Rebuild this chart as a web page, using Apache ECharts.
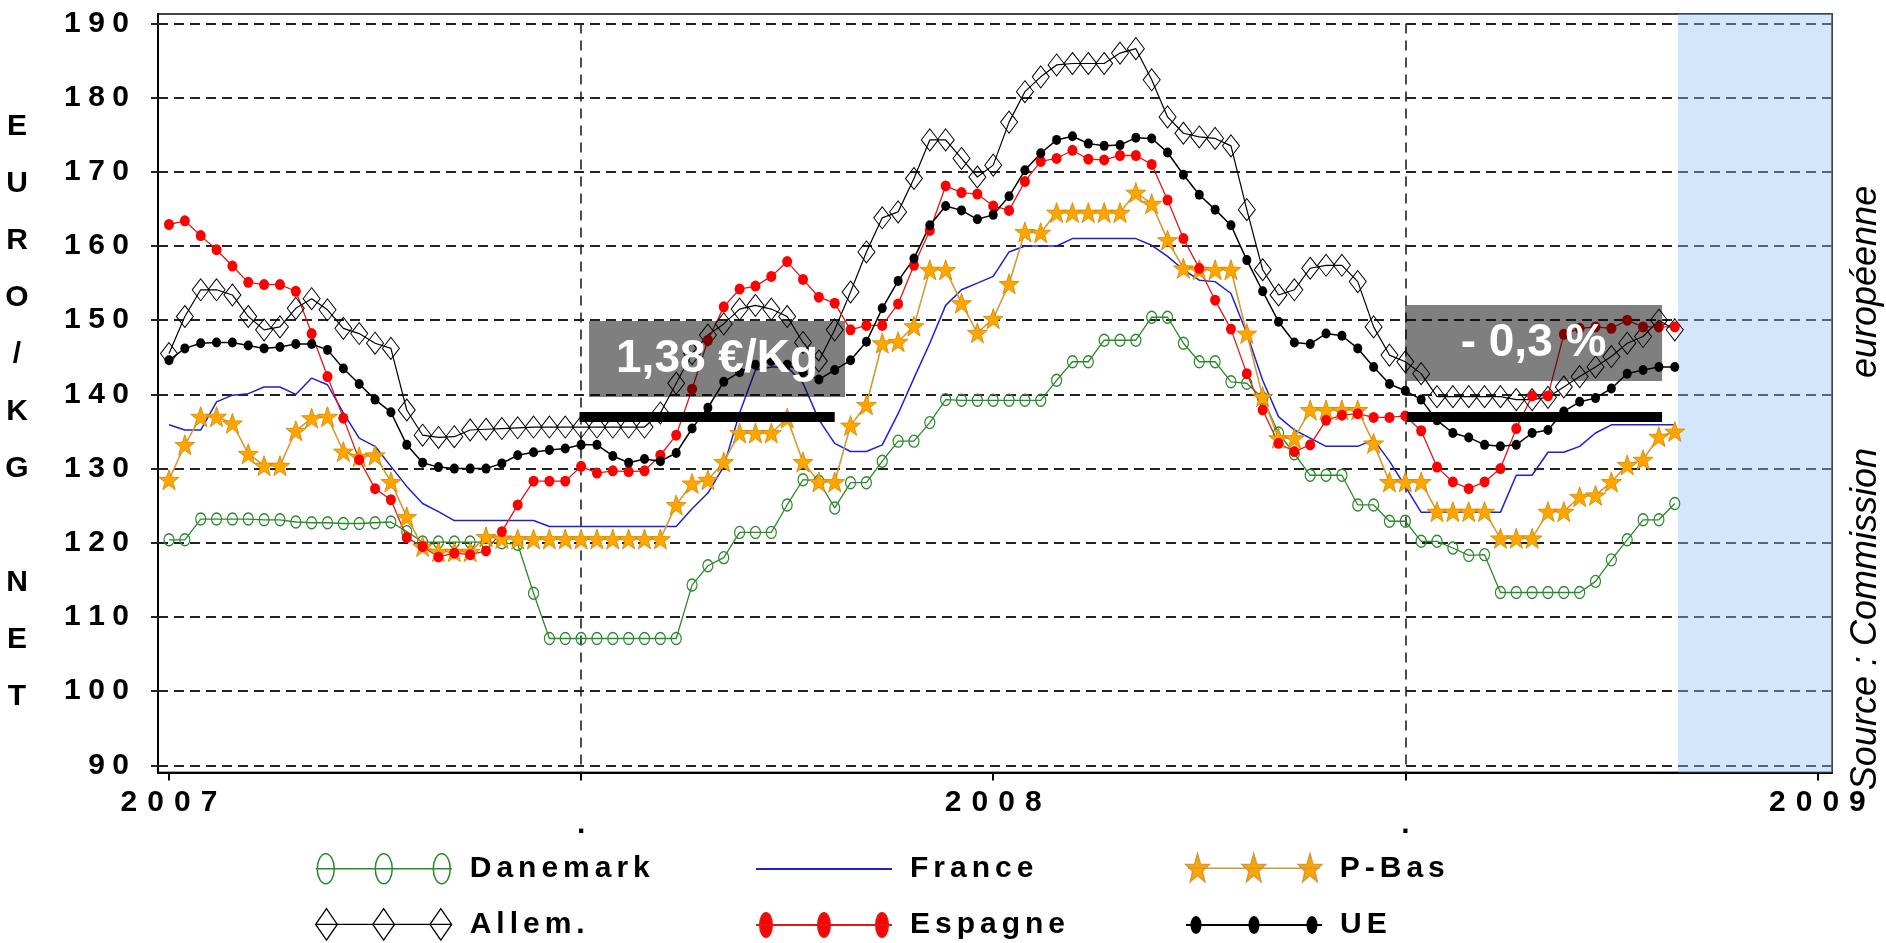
<!DOCTYPE html>
<html><head><meta charset="utf-8">
<script src="https://cdn.jsdelivr.net/npm/echarts@6/dist/echarts.min.js"></script>
<style>html,body{margin:0;padding:0;background:#fff}#c{width:1886px;height:943px}</style>
</head><body><div id="c"></div>
<script>
// ---- data (weekly prices, EUR / 100 kg net; week 0 = first week of 2007) ----
const xTickValues = [0, 26, 52, 78, 104];
const xTickLabels = ['2007', '.', '2008', '.', '2009'];
const yTickValues = [90, 100, 110, 120, 130, 140, 150, 160, 170, 180, 190];

const danemark = [120.4,120.4,123.2,123.2,123.2,123.2,123.1,123.1,122.8,122.7,122.7,122.6,122.6,122.7,122.8,121.5,120.1,120.1,120.1,120.1,120.1,120.0,119.8,113.2,107.1,107.1,107.1,107.1,107.1,107.1,107.1,107.1,107.1,114.3,116.9,118.0,121.4,121.4,121.4,125.1,128.5,128.3,124.7,128.1,128.1,131.0,133.7,133.7,136.2,139.3,139.2,139.2,139.2,139.2,139.2,139.2,141.9,144.4,144.4,147.3,147.3,147.3,150.4,150.4,146.9,144.4,144.4,141.7,141.5,139.5,134.8,132.0,129.1,129.1,129.1,125.1,125.1,122.9,122.9,120.2,120.2,119.3,118.3,118.4,113.3,113.3,113.3,113.3,113.3,113.3,114.8,117.7,120.4,123.1,123.1,125.3];
const france = [135.9,135.2,135.2,139.0,139.9,140.1,141.0,141.0,140.0,142.2,141.3,137.5,134.1,133.0,130.3,127.6,125.3,124.2,123.0,123.0,123.0,123.0,123.0,123.0,122.2,122.2,122.2,122.2,122.2,122.2,122.2,122.2,122.2,124.6,126.7,130.3,137.5,143.3,143.7,143.7,141.5,136.6,133.4,132.3,132.3,133.2,137.4,142.2,146.9,152.0,154.1,155.0,155.9,159.2,160.0,160.0,160.0,161.0,161.0,161.0,161.0,161.0,160.1,158.6,156.8,155.4,155.2,153.6,148.2,141.9,137.0,135.2,134.1,133.0,133.0,133.0,133.9,131.0,127.6,124.1,124.1,124.1,124.1,124.1,124.1,129.1,129.1,132.2,132.2,133.0,134.8,135.9,135.9,135.9,135.9,135.9];
const pBas = [128.5,133.2,137.0,137.0,136.1,132.0,130.4,130.4,135.1,136.8,137.0,132.3,131.6,131.8,128.2,123.5,119.5,118.8,118.8,118.8,120.8,120.6,120.5,120.5,120.5,120.5,120.5,120.5,120.5,120.5,120.5,120.5,125.1,128.0,128.5,130.9,134.8,134.8,134.8,136.8,130.9,128.2,128.2,135.8,138.6,146.9,147.1,149.2,156.8,156.8,152.3,148.3,150.2,154.9,161.9,161.8,164.5,164.5,164.5,164.5,164.5,167.2,165.7,160.8,157.0,156.8,156.8,156.8,148.2,139.7,134.1,134.1,137.9,137.9,137.9,137.9,133.4,128.2,128.2,128.2,124.2,124.2,124.2,124.2,120.6,120.6,120.6,124.2,124.2,126.2,126.4,128.2,130.5,131.2,134.3,135.0];
const allem = [145.5,150.5,154.1,154.1,153.4,150.5,148.7,149.1,151.6,152.9,151.4,148.9,148.2,146.9,146.2,137.9,134.5,134.2,134.3,135.2,135.3,135.4,135.5,135.6,135.6,135.6,135.6,135.6,135.6,135.6,135.6,137.5,141.5,145.5,148.0,149.5,151.5,152.0,151.5,150.5,147.0,144.5,148.7,153.8,159.2,163.8,164.6,169.1,174.3,174.3,171.8,169.3,170.9,176.7,180.8,182.8,184.4,184.6,184.6,184.6,186.0,186.6,182.4,177.4,175.2,174.7,174.5,173.5,164.9,156.8,153.4,154.1,157.0,157.4,157.4,155.2,149.1,145.3,144.4,142.8,139.7,139.7,139.7,139.7,139.7,139.3,139.3,139.6,141.0,142.4,143.7,145.1,146.9,147.8,150.0,148.7];
const espagne = [162.9,163.4,161.4,159.5,157.3,155.1,154.8,154.8,153.9,148.2,142.4,136.8,131.2,127.3,125.8,120.7,119.5,118.1,118.6,118.4,118.9,121.5,125.1,128.3,128.3,128.3,130.3,129.4,129.7,129.6,129.7,131.8,134.5,140.7,147.3,151.8,154.2,154.6,155.9,157.9,155.5,153.1,152.3,148.7,149.3,149.3,152.2,157.4,162.1,168.1,167.2,167.0,165.4,164.8,168.7,171.4,171.8,172.9,171.7,171.6,172.2,172.2,171.0,166.2,161.0,157.0,152.7,148.8,142.8,137.9,133.4,132.3,133.2,136.5,137.2,137.4,136.9,136.9,137.1,135.1,130.2,128.2,127.3,128.2,130.0,135.4,139.8,139.8,148.1,148.9,149.1,148.9,150.0,149.1,149.1,149.1];
const ue = [144.6,146.2,146.9,147.0,147.0,146.6,146.2,146.4,146.8,146.8,146.0,143.5,141.4,139.3,137.6,133.2,130.8,130.2,130.0,130.0,130.0,130.7,131.8,132.2,132.5,132.7,133.2,133.2,131.7,130.8,131.3,131.0,132.1,135.4,138.2,141.7,143.0,144.0,144.5,144.0,143.0,142.0,143.3,144.6,147.1,151.6,155.3,158.3,162.8,165.4,164.8,163.6,164.2,166.7,170.2,172.5,174.3,174.8,173.8,173.5,173.6,174.6,174.5,172.6,169.6,166.9,164.9,162.8,158.1,153.9,149.8,147.0,146.8,148.2,147.9,146.2,143.7,141.4,140.5,139.3,136.5,134.8,134.2,133.2,133.0,133.2,134.8,135.2,137.7,139.0,139.5,140.8,142.8,143.3,143.7,143.7];

// annotation values
const refLevel = 137;              // black reference bars
const noteLeft = '1,38 €/Kg';
const noteRight = '- 0,3 %';

// ---- helpers ----
const FONT = '"Liberation Sans", Arial, sans-serif';
const pairs = arr => arr.map((v, i) => [i, v]);
function starPts(cx, cy, R, r, sx, sy) {
  let s = '';
  for (let k = 0; k < 10; k++) {
    const a = -Math.PI / 2 + k * Math.PI / 5;
    const rad = k % 2 ? r : R;
    s += (k ? 'L' : 'M') + (cx + rad * Math.cos(a) * sx).toFixed(2) + ' ' + (cy + rad * Math.sin(a) * sy).toFixed(2) + ' ';
  }
  return s + 'Z ';
}
function ellipse(cx, cy, rx, ry) {
  return `M${cx - rx} ${cy} A${rx} ${ry} 0 1 0 ${cx + rx} ${cy} A${rx} ${ry} 0 1 0 ${cx - rx} ${cy} Z `;
}
function diamond(cx, cy, hw, hh) {
  return `M${cx - hw} ${cy} L${cx} ${cy - hh} L${cx + hw} ${cy} L${cx} ${cy + hh} Z `;
}
const W = 136, H = 32, CX = [10, 68, 126];
const pin = 'M0 0 L0.01 0 M136 32 L135.99 32 ';
const baseLine = 'M0 16 L136 16 ';
const icon = {
  Danemark: 'path://' + pin + baseLine + CX.map(c => ellipse(c, 16, 8.5, 15)).join(''),
  'Allem.': 'path://' + pin + baseLine + CX.map(c => diamond(c, 16, 11, 16)).join(''),
  France: 'path://' + pin + baseLine,
  Espagne: 'path://' + pin + baseLine + CX.map(c => ellipse(c, 16, 6, 12)).join(''),
  'P-Bas': 'path://' + pin + baseLine + CX.map(c => starPts(c, 17, 16, 6.5, 0.8, 1)).join(''),
  UE: 'path://' + pin + baseLine + CX.map(c => ellipse(c, 16, 4.5, 8)).join('')
};
const starSymbol = 'path://' + starPts(10, 10, 10, 4, 1, 1);
const spaced = (s, sp) => String(s).split('').join(sp);

const C = {
  dk: '#2b8a2b', fr: '#2020d2', pb: '#ffa500', pbLine: '#d39a38', pbBorder: '#d08700',
  es: '#ff0000', esLine: '#e01818'
};

const chart = echarts.init(document.getElementById('c'), null, { renderer: 'canvas' });

const legendBase = {
  orient: 'horizontal', itemWidth: W, itemHeight: H, padding: 0,
  selectedMode: false, symbolKeepAspect: true,
  textStyle: { fontSize: 30, fontWeight: 'bold', fontFamily: FONT, color: '#000', padding: [0, 0, 0, 13] },
  formatter: n => spaced(n, '\u2006')
};
const legendAt = (name, left, top, st) => Object.assign({}, legendBase, { left, top, data: [{ name, icon: icon[name], itemStyle: st }] });

const option = {
  animation: false,
  backgroundColor: '#fff',
  grid: { left: 158, top: 14, right: 54, bottom: 170.5, show: true, borderColor: '#444', borderWidth: 2, backgroundColor: 'transparent' },
  xAxis: {
    type: 'value', min: -0.694, max: 104.92,
    axisLine: { show: true, onZero: false, lineStyle: { color: '#000', width: 2 } },
    axisTick: { show: true, customValues: xTickValues, length: 8, lineStyle: { color: '#000', width: 2 } },
    axisLabel: {
      customValues: xTickValues, margin: 19, fontSize: 30, lineHeight: 22, fontWeight: 'bold', fontFamily: FONT, color: '#000',
      formatter: v => { const t = xTickLabels[xTickValues.indexOf(Math.round(v))]; return t === '.' ? '\n.' : spaced(t, '\u2004'); }
    },
    splitLine: { show: false }
  },
  yAxis: {
    type: 'value', min: 89.04, max: 191.27,
    axisLine: { show: true, onZero: false, lineStyle: { color: '#000', width: 2 } },
    axisTick: { show: true, customValues: yTickValues, length: 7, lineStyle: { color: '#222', width: 2 } },
    axisLabel: {
      customValues: yTickValues, margin: 29, fontSize: 30, fontWeight: 'bold', fontFamily: FONT, color: '#000',
      formatter: v => spaced(Math.round(v), '\u2005')
    },
    splitLine: { show: false }
  },
  legend: [
    legendAt('Danemark', 315, 852, { color: 'rgba(0,0,0,0)', borderColor: C.dk, borderWidth: 1.5 }),
    legendAt('France', 755, 852, { color: 'rgba(0,0,0,0)', borderColor: C.fr, borderWidth: 2 }),
    legendAt('P-Bas', 1185, 852, { color: C.pb, borderColor: C.pbLine, borderWidth: 1.5 }),
    legendAt('Allem.', 315, 908, { color: 'rgba(0,0,0,0)', borderColor: '#000', borderWidth: 1.3 }),
    legendAt('Espagne', 755, 908, { color: C.es, borderColor: C.esLine, borderWidth: 2 }),
    legendAt('UE', 1185, 908, { color: '#000', borderColor: '#000', borderWidth: 2 })
  ],
  series: [
    { // grid lines
      type: 'line', data: [], silent: true, z: 1,
      markLine: {
        silent: true, z: 1, symbol: ['none', 'none'], label: { show: false }, animation: false,
        lineStyle: { type: [10, 6], color: '#222', width: 2 },
        emphasis: { disabled: true },
        data: yTickValues.map(v => ({ yAxis: v })).concat([
          [{ coord: [26, 190], lineStyle: { width: 1.6, type: [10, 7] } }, { coord: [26, 89.04] }],
          [{ coord: [78, 190], lineStyle: { width: 1.6, type: [10, 7] } }, { coord: [78, 89.04] }]
        ])
      }
    },
    { // shaded region
      type: 'line', data: [], silent: true, z: 1,
      markArea: {
        silent: true, z: 1.5, itemStyle: { color: 'rgba(150,195,245,0.42)' }, emphasis: { disabled: true },
        data: [[{ xAxis: 95.2 }, { xAxis: 104.92 }]]
      }
    },
    { name: 'France', type: 'line', data: pairs(france), symbol: 'none', z: 2,
      itemStyle: { color: C.fr }, lineStyle: { color: C.fr, width: 1.5 }, emphasis: { disabled: true } },
    { name: 'Danemark', type: 'line', data: pairs(danemark), symbol: 'circle', symbolSize: [10, 12], z: 2,
      itemStyle: { color: 'rgba(0,0,0,0)', borderColor: C.dk, borderWidth: 1.3 }, lineStyle: { color: C.dk, width: 1.3 }, emphasis: { disabled: true } },
    { name: 'Allem.', type: 'line', data: pairs(allem), symbol: 'diamond', symbolSize: [17, 22], z: 2,
      itemStyle: { color: 'rgba(0,0,0,0)', borderColor: '#000', borderWidth: 1 }, lineStyle: { color: '#000', width: 1.2 }, emphasis: { disabled: true } },
    { name: 'P-Bas', type: 'line', data: pairs(pBas), symbol: starSymbol, symbolSize: 20, z: 2,
      itemStyle: { color: C.pb, borderColor: C.pbBorder, borderWidth: 0.8 }, lineStyle: { color: C.pbLine, width: 1.6 }, emphasis: { disabled: true } },
    { name: 'Espagne', type: 'line', data: pairs(espagne), symbol: 'circle', symbolSize: [10, 11], z: 2,
      itemStyle: { color: C.es }, lineStyle: { color: C.esLine, width: 1.3 }, emphasis: { disabled: true } },
    { name: 'UE', type: 'line', data: pairs(ue), symbol: 'circle', symbolSize: [9, 10], z: 2,
      itemStyle: { color: '#000' }, lineStyle: { color: '#000', width: 1.5 }, emphasis: { disabled: true } },
    { // annotations
      type: 'line', data: [], silent: true, z: 10,
      markArea: {
        silent: true, z: 10, itemStyle: { color: 'rgba(0,0,0,0.5)' }, emphasis: { disabled: true },
        label: { show: true, position: 'inside', color: '#fff', fontSize: 46, fontWeight: 'bold', fontFamily: FONT, formatter: '{b}' },
        data: [
          [{ name: noteLeft, xAxis: 26.5, yAxis: 149.9 }, { xAxis: 42.65, yAxis: 139.65 }],
          [{ name: noteRight, xAxis: 77.98, yAxis: 152.05 }, { xAxis: 94.2, yAxis: 141.8 }]
        ]
      },
      markLine: {
        silent: true, z: 11, symbol: ['none', 'none'], label: { show: false }, emphasis: { disabled: true },
        lineStyle: { type: 'solid', color: '#000', width: 10 },
        data: [
          [{ coord: [25.9, refLevel] }, { coord: [42.0, refLevel] }],
          [{ coord: [78.1, refLevel] }, { coord: [94.2, refLevel] }]
        ]
      }
    }
  ],
  graphic: [
    { type: 'text', x: 17, y: 98, silent: true,
      style: { text: 'E\nU\nR\nO\n/\nK\nG\n\nN\nE\nT', font: 'bold 30px ' + FONT, lineHeight: 57, align: 'center', verticalAlign: 'top', fill: '#000' } },
    { type: 'text', x: 1866, y: 488, rotation: Math.PI / 2, silent: true,
      style: { text: 'Source : Commission       européenne', font: 'italic 36px ' + FONT, align: 'center', verticalAlign: 'middle', fill: '#000' } }
  ]
};
chart.setOption(option);
</script>
</body></html>
